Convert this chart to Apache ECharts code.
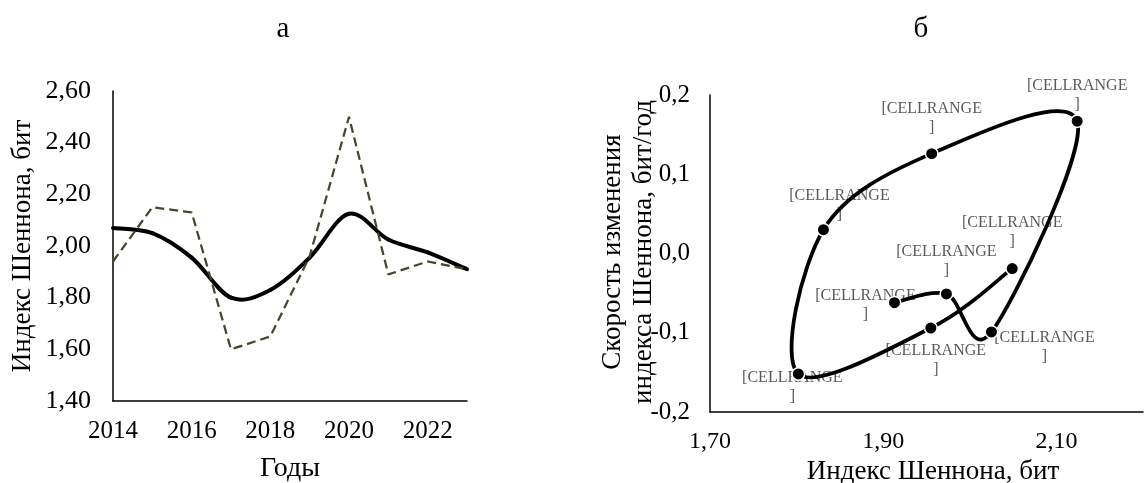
<!DOCTYPE html>
<html>
<head>
<meta charset="utf-8">
<script src="https://cdn.jsdelivr.net/npm/echarts@6/dist/echarts.min.js"></script>
<style>
html,body{margin:0;padding:0;background:#fff;}
#chart{width:1146px;height:483px;}
</style>
</head>
<body>
<div id="chart"></div>
<script>
// ---------- data ----------
const years = [2014, 2015, 2016, 2017, 2018, 2019, 2020, 2021, 2022, 2023];
const shannonObserved = [1.94, 2.15, 2.13, 1.60, 1.65, 1.96, 2.50, 1.89, 1.94, 1.91];
const shannonSmoothed = [2.07, 2.05, 1.955, 1.80, 1.83, 1.955, 2.125, 2.025, 1.975, 1.91];

const phaseYears = [2015, 2016, 2017, 2018, 2019, 2020, 2021, 2022, 2023];
const phaseIndex = [2.049, 1.955, 1.802, 1.831, 1.956, 2.124, 2.025, 1.973, 1.913];
const phaseRate  = [-0.019, -0.094, -0.152, 0.030, 0.126, 0.167, -0.099, -0.051, -0.062];
const phasePointLabel = '[CELLRANGE\n]';

const leftXTickLabels  = ['2014', '2016', '2018', '2020', '2022'];
const leftYTickLabels  = ['1,40', '1,60', '1,80', '2,00', '2,20', '2,40', '2,60'];
const rightXTickLabels = ['1,70', '1,90', '2,10'];
const rightYTickLabels = ['-0,2', '-0,1', '0,0', '0,1', '0,2'];

const panelTitles = ['а', 'б'];
const leftXName = 'Годы';
const leftYName = 'Индекс Шеннона, бит';
const rightXName = 'Индекс Шеннона, бит';
const rightYName = 'Скорость изменения\nиндекса Шеннона, бит/год';

// ---------- styles / layout (not data) ----------
const labelOffsets = [[0,-36],[5,32],[-6,13],[16,-24],[0,-35],[0,-26],[53,15],[0,-33],[-29,3]];
const FONT = "'Liberation Serif','Times New Roman',serif";

function fmt(digits, list) {
  return function (v) {
    const s = Number(v).toFixed(digits).replace('.', ',').replace('-0,0', '0,0');
    return list.indexOf(s) >= 0 ? s : '';
  };
}
const axisLineStyle = {show: true, onZero: false, lineStyle: {color: '#000', width: 1.5}};
const tickLabel = (f, margin, fs) => ({color: '#000', fontFamily: FONT, fontSize: fs, margin: margin, formatter: f});

// Smooth curve (Excel-like Catmull-Rom) drawn in pixel space via the axes' own coord transform
function smoothCurveSeries(xIdx, yIdx, xs, ys, color, width, z) {
  return {
    type: 'custom', xAxisIndex: xIdx, yAxisIndex: yIdx, z: z,
    data: xs.map((x, i) => [x, ys[i]]),
    encode: {x: 0, y: 1},
    renderItem: function (params, api) {
      if (params.dataIndexInside !== 0) return null;
      const n = params.dataInsideLength;
      const p = [];
      for (let j = 0; j < n; j++) p.push(api.coord([api.value(0, j), api.value(1, j)]));
      const children = [];
      for (let i = 0; i < n - 1; i++) {
        const p0 = p[i - 1] || p[i], p1 = p[i], p2 = p[i + 1], p3 = p[i + 2] || p[i + 1];
        children.push({
          type: 'bezierCurve',
          shape: {
            x1: p1[0], y1: p1[1], x2: p2[0], y2: p2[1],
            cpx1: p1[0] + (p2[0] - p0[0]) / 6, cpy1: p1[1] + (p2[1] - p0[1]) / 6,
            cpx2: p2[0] - (p3[0] - p1[0]) / 6, cpy2: p2[1] - (p3[1] - p1[1]) / 6
          },
          style: {stroke: color, lineWidth: width, fill: 'none', lineCap: 'round'}
        });
      }
      return {type: 'group', children: children};
    }
  };
}

const observedData = years.map((y, i) => [y, shannonObserved[i]]);
const phasePoints = phaseYears.map((y, i) => [phaseIndex[i], phaseRate[i]]);
const phaseLabelData = phaseYears.map((y, i) => ({
  value: [phaseIndex[i], phaseRate[i]],
  label: {offset: labelOffsets[i]}
}));

const option = {
  animation: false,
  backgroundColor: '#fff',
  grid: [
    {left: 113, top: 91, width: 354, height: 310},
    {left: 710, top: 95, width: 446, height: 317}
  ],
  xAxis: [
    {gridIndex: 0, type: 'value', min: 2014, max: 2023, interval: 2,
     axisLine: axisLineStyle, axisTick: {show: false}, splitLine: {show: false},
     axisLabel: tickLabel(v => (leftXTickLabels.indexOf(String(v)) >= 0 ? String(v) : ''), 18, 25)},
    {gridIndex: 1, type: 'value', min: 1.7, max: 2.2, interval: 0.1,
     axisLine: axisLineStyle, axisTick: {show: false}, splitLine: {show: false},
     axisLabel: tickLabel(fmt(2, rightXTickLabels), 18, 24)}
  ],
  yAxis: [
    {gridIndex: 0, type: 'value', min: 1.4, max: 2.6, interval: 0.2,
     axisLine: axisLineStyle, axisTick: {show: false}, splitLine: {show: false},
     axisLabel: tickLabel(fmt(2, leftYTickLabels), 22, 26)},
    {gridIndex: 1, type: 'value', min: -0.2, max: 0.2, interval: 0.1,
     axisLine: axisLineStyle, axisTick: {show: false}, splitLine: {show: false},
     axisLabel: tickLabel(fmt(1, rightYTickLabels), 20, 25)}
  ],
  series: [
    smoothCurveSeries(0, 0, years, shannonSmoothed, '#000', 4, 2),
    {type: 'line', xAxisIndex: 0, yAxisIndex: 0, data: observedData, z: 3,
     showSymbol: false, symbol: 'none',
     lineStyle: {color: '#48442e', width: 2.25, type: [9, 5]}},
    {type: 'scatter', xAxisIndex: 1, yAxisIndex: 1, data: phaseLabelData, z: 1,
     symbolSize: 1, itemStyle: {color: 'rgba(0,0,0,0)'},
     label: {show: true, position: 'inside', formatter: phasePointLabel,
             color: '#303030', fontFamily: FONT, fontSize: 16, lineHeight: 19, align: 'center'}},
    smoothCurveSeries(1, 1, phaseIndex, phaseRate, '#000', 3.75, 2),
    {type: 'scatter', xAxisIndex: 1, yAxisIndex: 1, data: phasePoints, z: 3,
     symbol: 'circle', symbolSize: 12.5,
     itemStyle: {color: '#000', borderColor: '#fff', borderWidth: 1.5, opacity: 1}}
  ],
  graphic: [
    {type: 'text', x: 283, y: 29, style: {text: panelTitles[0], font: '29px ' + FONT, fill: '#000', align: 'center', verticalAlign: 'middle'}},
    {type: 'text', x: 921, y: 29, style: {text: panelTitles[1], font: '29px ' + FONT, fill: '#000', align: 'center', verticalAlign: 'middle'}},
    {type: 'text', x: 23, y: 246, rotation: Math.PI / 2, style: {text: leftYName, font: '27px ' + FONT, fill: '#000', align: 'center', verticalAlign: 'middle'}},
    {type: 'text', x: 290, y: 469, style: {text: leftXName, font: '28px ' + FONT, fill: '#000', align: 'center', verticalAlign: 'middle'}},
    {type: 'text', x: 628, y: 252, rotation: Math.PI / 2, style: {text: rightYName, font: '27px ' + FONT, lineHeight: 31, fill: '#000', align: 'center', verticalAlign: 'middle'}},
    {type: 'text', x: 933, y: 472, style: {text: rightXName, font: '27px ' + FONT, fill: '#000', align: 'center', verticalAlign: 'middle'}}
  ]
};

const chart = echarts.init(document.getElementById('chart'), null, {renderer: 'canvas'});
chart.setOption(option);
</script>
</body>
</html>
